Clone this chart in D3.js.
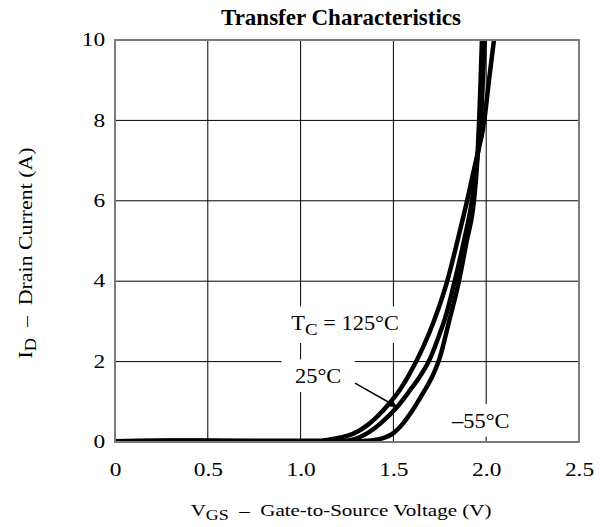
<!DOCTYPE html>
<html>
<head>
<meta charset="utf-8">
<script src="https://cdn.jsdelivr.net/npm/d3@7"></script>
<style>
  body { margin: 0; background: #fff; }
  text { font-family: "Liberation Serif", "Times New Roman", serif; fill: #000; }
</style>
</head>
<body>
<div id="chart"></div>
<script>
// values
var xTicks = [0, 0.5, 1.0, 1.5, 2.0, 2.5];
var yTicks = [0, 2, 4, 6, 8, 10];

// [VGS (V), ID (A)]
var curve125 = [[0,0.02],[0.3,0.04],[0.6,0.03],[0.9,0.03],[1.1,0.03],[1.18,0.08],[1.25,0.15],[1.30,0.24],[1.36,0.42],[1.41,0.62],[1.48,0.97],[1.535,1.3],[1.59,1.72],[1.66,2.36],[1.72,3.03],[1.79,4.0],[1.845,5.0],[1.897,6.0],[1.945,7.0],[1.99,8.0],[2.015,9.0],[2.042,10],[2.05,10.3]];
var curve25 = [[0,0.02],[0.4,0.03],[0.8,0.02],[1.2,0.02],[1.28,0.06],[1.36,0.22],[1.44,0.5],[1.52,0.87],[1.59,1.29],[1.63,1.54],[1.70,2.1],[1.75,2.7],[1.78,3.1],[1.83,4.0],[1.88,5.0],[1.923,6.0],[1.95,7.0],[1.972,8.0],[1.982,9.0],[1.992,10],[1.996,10.3]];
var curveM55 = [[0,0.02],[0.5,0.02],[1.0,0.02],[1.3,0.02],[1.38,0.04],[1.44,0.09],[1.50,0.22],[1.55,0.45],[1.605,0.8],[1.66,1.22],[1.70,1.54],[1.75,2.1],[1.80,3.0],[1.853,4.0],[1.895,5.0],[1.934,6.0],[1.952,7.0],[1.962,8.0],[1.970,9.0],[1.977,10],[1.98,10.3]];

var width = 600, height = 527;
var margin = {left: 115, right: 21, top: 40, bottom: 85};

var svg = d3.select('#chart').append('svg')
  .attr('width', width)
  .attr('height', height);

var x = d3.scaleLinear().domain([0, 2.5]).range([margin.left, width - margin.right]);
var y = d3.scaleLinear().domain([0, 10]).range([height - margin.bottom, margin.top]);

// grid
svg.append('g').selectAll('line')
  .data(xTicks.slice(1, -1)).enter().append('line')
  .attr('x1', function(d) { return x(d); }).attr('x2', function(d) { return x(d); })
  .attr('y1', y(0)).attr('y2', y(10))
  .attr('stroke', '#000').attr('stroke-width', 1);
svg.append('g').selectAll('line')
  .data(yTicks.slice(1, -1)).enter().append('line')
  .attr('x1', x(0)).attr('x2', x(2.5))
  .attr('y1', function(d) { return y(d); }).attr('y2', function(d) { return y(d); })
  .attr('stroke', '#000').attr('stroke-width', 1);

// curves
svg.append('clipPath').attr('id', 'clip').append('rect')
  .attr('x', x(0)).attr('y', y(10))
  .attr('width', x(2.5) - x(0)).attr('height', y(0) - y(10));

var line = d3.line()
  .x(function(d) { return x(d[0]); })
  .y(function(d) { return y(d[1]); })
  .curve(d3.curveMonotoneX);

svg.append('g').attr('clip-path', 'url(#clip)')
  .selectAll('path').data([curve125, curve25, curveM55]).enter().append('path')
  .attr('d', line)
  .attr('fill', 'none')
  .attr('stroke', '#000')
  .attr('stroke-width', 4.5)
  .attr('stroke-linejoin', 'round');

// curve labels sit on white boxes that break the grid
function label(xv, yv, parts, padX) {
  var g = svg.append('g')
    .attr('transform', 'translate(' + x(xv) + ',' + y(yv) + ') scale(1.12,1)');
  var t = g.append('text').style('font-size', '20px');
  parts.forEach(function(p) {
    var s = t.append('tspan').text(p.t);
    if (p.sub) s.attr('dy', 5).style('font-size', '17px');
    if (p.back) s.attr('dy', -5);
  });
  var bb = t.node().getBBox();
  g.insert('rect', 'text')
    .attr('x', bb.x - padX).attr('y', bb.y - 6)
    .attr('width', bb.width + 2 * padX).attr('height', bb.height + 10)
    .attr('fill', '#fff');
}
label(0.95, 2.78, [{t: 'T'}, {t: 'C', sub: true}, {t: ' = 125°C', back: true}], 6);
label(0.97, 1.46, [{t: '25°C'}], 12);
label(1.816, 0.35, [{t: '–55°C'}], 7);

// arrow to the 25°C curve
svg.append('defs').append('marker')
  .attr('id', 'arr').attr('viewBox', '0 0 10 10')
  .attr('refX', 10).attr('refY', 5)
  .attr('markerWidth', 11).attr('markerHeight', 8)
  .attr('markerUnits', 'userSpaceOnUse')
  .attr('orient', 'auto')
  .append('path').attr('d', 'M0,0L10,5L0,10z').attr('fill', '#000');
svg.append('line')
  .attr('x1', x(1.293)).attr('y1', y(1.465))
  .attr('x2', x(1.52)).attr('y2', y(0.87))
  .attr('stroke', '#000').attr('stroke-width', 1.5)
  .attr('marker-end', 'url(#arr)');

// frame
svg.append('rect')
  .attr('x', x(0)).attr('y', y(10))
  .attr('width', x(2.5) - x(0)).attr('height', y(0) - y(10))
  .attr('fill', 'none').attr('stroke', '#7a7a7a').attr('stroke-width', 2);

// tick labels
var xAxis = svg.append('g')
  .attr('transform', 'translate(0,' + (y(0) + 18) + ')')
  .call(d3.axisBottom(x).tickValues(xTicks).tickSize(0)
    .tickFormat(function(d) { return d === 0 ? '0' : d3.format('.1f')(d); }));
var yAxis = svg.append('g')
  .attr('transform', 'translate(' + (x(0) - 6) + ',0)')
  .call(d3.axisLeft(y).tickValues(yTicks).tickSize(0).tickFormat(d3.format('d')));
[xAxis, yAxis].forEach(function(a) {
  a.select('.domain').remove();
  a.selectAll('text')
    .style('font-size', '18px')
    .style('font-family', '"Liberation Serif", serif')
    .attr('fill', '#000')
    .attr('transform', 'scale(1.3,1)');
});

// title
svg.append('text')
  .attr('x', 341).attr('y', 25)
  .attr('text-anchor', 'middle')
  .style('font-size', '23px').style('font-weight', 'bold')
  .text('Transfer Characteristics');

// axis titles
var xt = svg.append('text')
  .attr('transform', 'translate(341,516) scale(1.2,1)')
  .attr('text-anchor', 'middle')
  .style('font-size', '17.5px');
xt.append('tspan').text('V');
xt.append('tspan').attr('dy', 4).style('font-size', '15px').text('GS');
xt.append('tspan').attr('dy', -4).text('  –  Gate-to-Source Voltage (V)')
  .style('white-space', 'pre');

var yt = svg.append('text')
  .attr('transform', 'translate(32,253) rotate(-90) scale(1.15,1)')
  .attr('text-anchor', 'middle')
  .style('font-size', '19px');
yt.append('tspan').text('I');
yt.append('tspan').attr('dy', 4).style('font-size', '16px').text('D');
yt.append('tspan').attr('dy', -4).text('  –  Drain Current (A)')
  .style('white-space', 'pre');
</script>
</body>
</html>
